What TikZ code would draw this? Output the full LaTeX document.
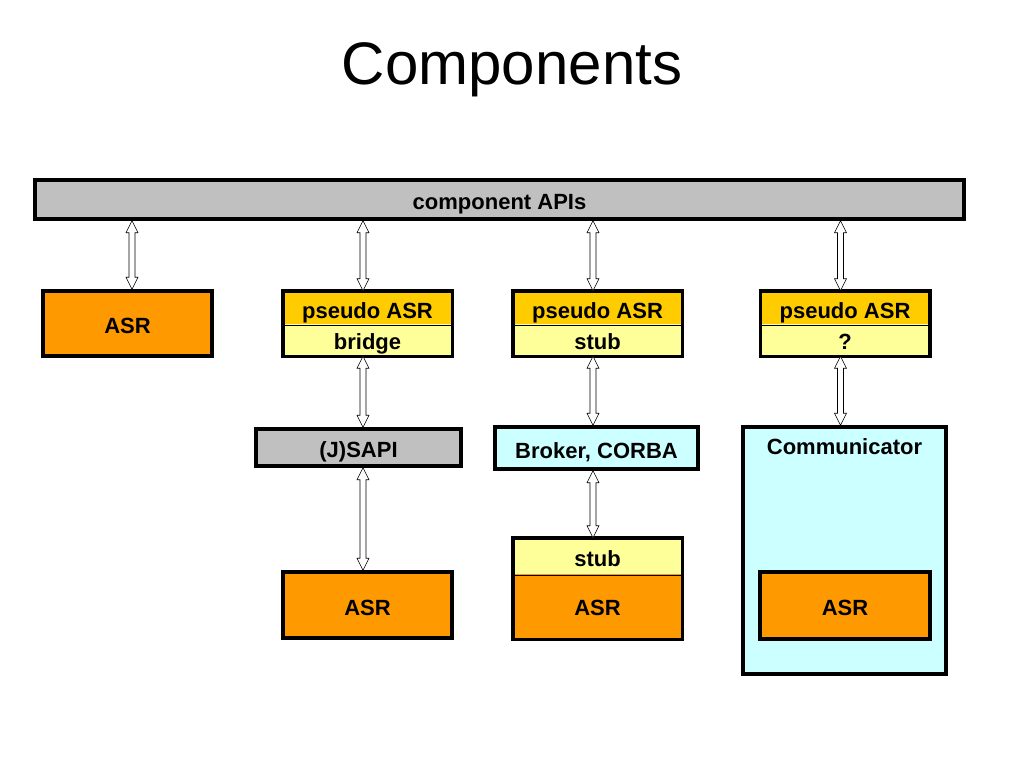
\documentclass[tikz,border=0pt]{standalone}
\usepackage{fontspec}
\setmainfont{Liberation Sans}
\usetikzlibrary{calc}
\definecolor{apigray}{HTML}{C0C0C0}
\definecolor{asrorange}{HTML}{FF9900}
\definecolor{pseudogold}{HTML}{FFCC00}
\definecolor{lightyellow}{HTML}{FFFF99}
\definecolor{lightcyan}{HTML}{CCFFFF}
\tikzset{
  label text/.style={font=\fontsize{22}{26}\selectfont\bfseries, text height=20pt, text depth=0pt},
  box/.style={draw, line width=3.5pt, inner sep=0pt, label text},
  half/.style={inner sep=0pt, outer sep=1.75pt, minimum width=166pt, label text},
  frame/.style={line width=3.5pt},
  link/.style={draw, fill=white, line width=0.6pt,
    to path={let \p1=(\tikztostart), \p2=(\tikztotarget) in
      (\x1,\y1) -- (\x1-6pt,\y1-12pt) -- (\x1-3pt,\y1-12pt) -- (\x1-3pt,\y2+12pt)
      -- (\x1-6pt,\y2+12pt) -- (\x1,\y2) -- (\x1+6pt,\y2+12pt) -- (\x1+3pt,\y2+12pt)
      -- (\x1+3pt,\y1-12pt) -- (\x1+6pt,\y1-12pt) -- cycle}},
  left link/.style={link, transform canvas={xshift=-4.5pt}},
  right link/.style={link, transform canvas={xshift=4.5pt}}
}
\begin{document}
\begin{tikzpicture}[x=1pt, y=-1pt]
  \useasboundingbox (0,0) rectangle (1024,768);
  \node (title) at (512,70) {\fontsize{60}{66}\selectfont Components};
  % top bar
  \node[box, fill=apigray, minimum width=929pt, minimum height=39pt] (api) at (499.5,199.5) {component APIs};
  % first row
  \node[box, fill=asrorange, minimum width=169pt, minimum height=65pt] (asr1) at (127.5,323.5) {ASR};
  \node[half, fill=pseudogold, minimum height=31pt] (ps1) at (367.5,308) {pseudo ASR};
  \node[half, fill=lightyellow, minimum height=31pt] (bridge) at (367.5,339) {bridge};
  \node[half, fill=pseudogold, minimum height=31pt] (ps2) at (597.5,308) {pseudo ASR};
  \node[half, fill=lightyellow, minimum height=31pt] (stub1) at (597.5,339) {stub};
  \node[half, fill=pseudogold, minimum height=31pt] (ps3) at (845,308) {pseudo ASR};
  \node[half, fill=lightyellow, minimum height=31pt] (unknown) at (845,339) {?};
  % second row
  \node[box, fill=apigray, minimum width=205pt, minimum height=37pt] (jsapi) at (358.5,447.5) {(J)SAPI};
  \node[box, fill=lightcyan, minimum width=203pt, minimum height=42pt] (broker) at (596.5,448) {Broker, CORBA};
  \node[box, fill=lightcyan, minimum width=203pt, minimum height=247pt] (comm) at (844.5,550.5) {};
  \node[label text] (commlabel) at (844.5,444) {Communicator};
  % third row
  \node[box, fill=asrorange, minimum width=169pt, minimum height=66pt] (asr2) at (367.5,605) {ASR};
  \node[half, fill=lightyellow, minimum height=34pt] (stub2) at (597.5,556.5) {stub};
  \node[half, fill=asrorange, minimum height=64pt] (asr3) at (597.5,605.5) {ASR};
  \node[box, fill=asrorange, minimum width=170pt, minimum height=67pt] (asr4) at (845,605.5) {ASR};
  % frames of the split boxes
  \draw (ps1.south west) -- (ps1.south east);
  \draw (ps2.south west) -- (ps2.south east);
  \draw (ps3.south west) -- (ps3.south east);
  \draw (stub2.south west) -- (stub2.south east);
  \draw[frame] (ps1.north west) rectangle (bridge.south east);
  \draw[frame] (ps2.north west) rectangle (stub1.south east);
  \draw[frame] (ps3.north west) rectangle (unknown.south east);
  \draw[frame] (stub2.north west) rectangle (asr3.south east);
  % links
  \draw[right link] (api.south -| asr1.north) to (asr1.north);
  \draw[left link] (api.south -| ps1.north) to (ps1.north);
  \draw[left link] (api.south -| ps2.north) to (ps2.north);
  \draw[left link] (api.south -| ps3.north) to (ps3.north);
  \draw[left link] (bridge.south) to (jsapi.north -| bridge.south);
  \draw[left link] (jsapi.south -| asr2.north) to (asr2.north);
  \draw[left link] (stub1.south) to (broker.north -| stub1.south);
  \draw[left link] (broker.south -| stub2.north) to (stub2.north);
  \draw[left link] (unknown.south) to (comm.north -| unknown.south);
\end{tikzpicture}
\end{document}
